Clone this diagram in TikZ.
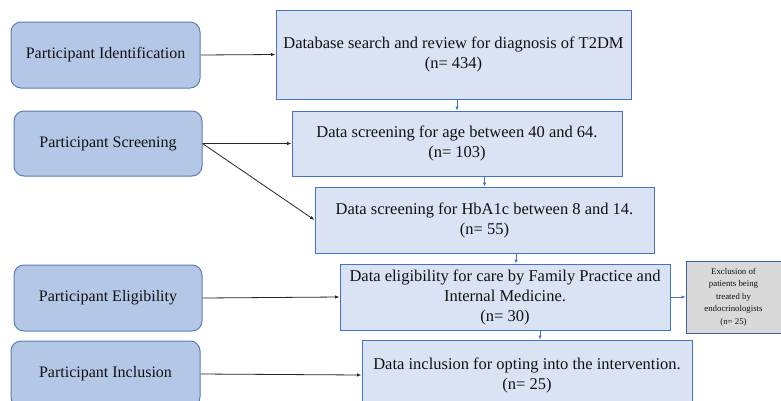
\documentclass[tikz,border=0pt]{standalone}
\usepackage{fontspec}
\setmainfont{Liberation Serif}
\usetikzlibrary{arrows.meta}
\definecolor{leftfill}{HTML}{B4C7E7}
\definecolor{leftdraw}{HTML}{5B7DB8}
\definecolor{boxfill}{HTML}{DAE3F3}
\definecolor{boxdraw}{HTML}{4472C4}
\definecolor{greyfill}{HTML}{D9D9D9}
\definecolor{greydraw}{HTML}{3B5E9E}
\definecolor{textcol}{HTML}{111111}
\newcommand{\gp}{\hspace{4pt}}
\tikzset{
  phase/.style={draw=leftdraw, fill=leftfill, line width=1pt, rounded corners=10pt,
    inner sep=0pt, align=center, text=textcol, font=\fontsize{16}{18}\selectfont},
  stagebox/.style={draw=boxdraw, fill=boxfill, line width=1pt, inner sep=0pt,
    align=center, text=textcol, font=\fontsize{16.5}{20}\selectfont},
  exclbox/.style={draw=greydraw, fill=greyfill, line width=1pt, inner sep=0pt,
    align=center, text=textcol, font=\fontsize{8.8}{12.5}\selectfont},
  blk/.style={draw=black!85, line width=0.8pt, -{Latex[length=4.5pt,width=3.5pt]}},
  blu/.style={draw=boxdraw, line width=0.8pt, -{Latex[length=4pt,width=3.5pt]}}
}
\begin{document}
\begin{tikzpicture}[x=1pt,y=-1pt]
\useasboundingbox (0,0) rectangle (781,400);
\clip (0,0) rectangle (781,400);
\fill[white] (0,0) rectangle (781,400);

% left phase boxes
\node[phase, minimum width=189pt, minimum height=66pt] (pid) at (105.5,55) {Participant\gp Identification};
\node[phase, minimum width=188pt, minimum height=65pt] (psc) at (108,143.5) {Participant\gp Screening};
\node[phase, minimum width=188pt, minimum height=66pt] (pel) at (108,298) {Participant\gp Eligibility};
\node[phase, minimum width=189pt, minimum height=66pt] (pin) at (105.5,374) {Participant\gp Inclusion};

% right stage boxes
\node[stagebox, minimum width=355pt, minimum height=89pt] (db) at (453.5,54.5)
  {Database search and review\gp for diagnosis\gp of T2DM\\(n= 434)};
\node[stagebox, minimum width=330pt, minimum height=65pt] (age) at (457,143.5)
  {Data screening\gp for age between 40 and 64.\\(n= 103)};
\node[stagebox, minimum width=339pt, minimum height=66pt] (hb) at (484.5,220)
  {Data screening\gp for HbA1c between 8 and 14.\\(n= 55)};
\node[stagebox, minimum width=330pt, minimum height=66pt] (elig) at (505,297)
  {Data eligibility\gp for care by Family Practice and\\Internal Medicine.\\(n= 30)};
\node[exclbox, minimum width=95pt, minimum height=72pt] (excl) at (733.5,297)
  {Exclusion of\\patients being\\treated by\\endocrinologists\\(n= 25)};
\node[stagebox, minimum width=330pt, minimum height=70pt] (incl) at (527,375)
  {Data inclusion\gp for opting into the intervention.\\(n= 25)};

% black connectors
\draw[blk] (pid.east) -- (db.west);
\draw[blk] (psc.east) -- (age.west);
\draw[blk] (psc.east) -- (hb.west);
\draw[blk] (pel.east) -- (elig.west);
\draw[blk] (pin.east) -- (incl.west);

% blue connectors
\draw[blu] (age.north |- db.south) -- (age.north);
\draw[blu] (hb.north |- age.south) -- (hb.north);
\draw[blu] ([xshift=11pt]elig.north |- hb.south) -- ([xshift=11pt]elig.north);
\draw[blu] ([xshift=13pt]incl.north |- elig.south) -- ([xshift=13pt]incl.north);
\draw[blu] (elig.east) -- (excl.west);
\end{tikzpicture}
\end{document}
